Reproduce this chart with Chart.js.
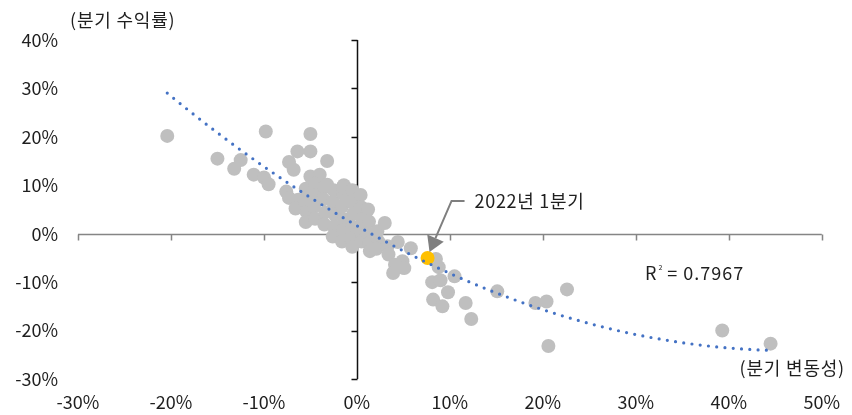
<!DOCTYPE html>
<html>
<head>
<meta charset="utf-8">
<script src="https://cdn.jsdelivr.net/npm/chart.js@4.4.1/dist/chart.umd.min.js"></script>
<style>
  html, body { margin: 0; padding: 0; background: #ffffff; }
  #wrap { width: 852px; height: 415px; }
</style>
</head>
<body>
<div id="wrap"><canvas id="c" width="852" height="415"></canvas></div>
<script>
// Quarterly volatility (x, %) against quarterly return (y, %)
const volatility = [
  // spread-out quarters, upper left
  -20.4, -15.0, -12.5, -13.2, -11.1, -10.0, -9.5, -9.8, -5.0, -6.4,
  -5.0, -7.3, -6.8, -3.2, -5.0, -4.0, -7.6, -7.3, -3.2, -1.4,
  // dense band around zero
  -6.3, -6.6, -5.5, -5.6, -5.4, -5.5,
  -4.5, -4.4, -4.6, -4.5, -3.5, -3.6, -3.4, -3.5,
  -2.5, -2.6, -2.4, -2.5, -2.6,
  -1.5, -1.6, -1.4, -1.5, -1.6, -1.5,
  -0.5, -0.6, -0.4, -0.5, -0.6, -0.5,
  0.4, 0.5, 0.6, 0.4, 0.5,
  1.2, 1.3, 1.1, 1.3, 1.4,
  2.2, 2.3, 2.1, 3.3, 3.4,
  // lower right
  3.0, 4.4, 5.8, 4.1, 4.9, 3.9, 4.9, 5.1,
  8.5, 8.8, 8.1, 9.0, 10.5, 9.8, 8.2, 9.2, 11.7, 12.3,
  15.1, 19.2, 20.4, 22.6, 20.6, 39.3, 44.5
];
const quarterlyReturn = [
  20.2, 15.5, 15.2, 13.4, 12.2, 11.6, 10.2, 21.1, 20.6, 17.0,
  17.0, 14.8, 13.2, 15.0, 11.8, 12.2, 8.7, 7.4, 10.1, 10.0,
  7.0, 5.2, 9.3, 6.8, 4.5, 2.4,
  10.3, 8.0, 5.6, 3.1, 9.6, 7.1, 4.4, 1.9,
  9.0, 6.6, 4.0, 1.5, -0.6,
  8.2, 5.6, 3.0, 0.6, -1.6, 9.6,
  9.0, 6.6, 4.1, 1.5, -1.0, -2.7,
  8.0, 5.4, 3.0, 0.5, -1.6,
  5.0, 2.5, 0.0, -2.0, -3.6,
  0.5, -1.6, -3.1, -2.6, -4.3,
  2.2, -1.7, -3.0, -6.4, -7.0, -8.1, -5.7, -7.1,
  -5.2, -6.9, -10.0, -9.6, -8.8, -12.1, -13.6, -15.0, -14.3, -17.6,
  -11.9, -14.3, -14.0, -11.5, -23.2, -20.0, -22.7
];

// Highlighted quarter
const highlightVol = [7.6];
const highlightRet = [-5.0];
const highlightLabel = '2022년 1분기';

const rSquaredValue = '0.7967';
const yTitle = '(분기 수익률)';
const xTitle = '(분기 변동성)';

const xTicks = [-30, -20, -10, 0, 10, 20, 30, 40, 50];
const yTicks = [-30, -20, -10, 0, 10, 20, 30, 40];

// ---- second-order polynomial trend (least squares) over all quarters ----
const allX = volatility.concat(highlightVol);
const allY = quarterlyReturn.concat(highlightRet);

function polyFit2(xs, ys) {
  const S = [0, 0, 0, 0, 0], T = [0, 0, 0];
  for (let i = 0; i < xs.length; i++) {
    let p = 1;
    for (let k = 0; k < 5; k++) { S[k] += p; if (k < 3) T[k] += p * ys[i]; p *= xs[i]; }
  }
  const A = [[S[0], S[1], S[2], T[0]], [S[1], S[2], S[3], T[1]], [S[2], S[3], S[4], T[2]]];
  for (let c = 0; c < 3; c++) {
    let m = c;
    for (let r = c + 1; r < 3; r++) if (Math.abs(A[r][c]) > Math.abs(A[m][c])) m = r;
    [A[c], A[m]] = [A[m], A[c]];
    for (let r = 0; r < 3; r++) {
      if (r === c) continue;
      const f = A[r][c] / A[c][c];
      for (let k = c; k < 4; k++) A[r][k] -= f * A[c][k];
    }
  }
  return [A[0][3] / A[0][0], A[1][3] / A[1][1], A[2][3] / A[2][2]];
}
const coef = polyFit2(allX, allY);
const xMin = Math.min(...allX), xMax = Math.max(...allX);
const trend = [];
for (let i = 0; i <= 120; i++) {
  const x = xMin + (xMax - xMin) * i / 120;
  trend.push({ x, y: coef[0] + coef[1] * x + coef[2] * x * x });
}

const scatterPts = volatility.map((v, i) => ({ x: v, y: quarterlyReturn[i] }));
const highlightPts = highlightVol.map((v, i) => ({ x: v, y: highlightRet[i] }));

const FONT = '"Noto Sans CJK KR", "Noto Sans", sans-serif';
const TEXT = '#1f1f1f';

// Axes crossing at zero, drawn beneath the markers
const crossAxes = {
  id: 'crossAxes',
  beforeDatasetsDraw(chart) {
    const { ctx, chartArea: a, scales: { x, y } } = chart;
    const y0 = Math.round(y.getPixelForValue(0)) + 0.5;
    const x0 = Math.round(x.getPixelForValue(0)) + 0.5;
    ctx.save();
    ctx.strokeStyle = '#858585';
    ctx.lineWidth = 1.5;
    ctx.beginPath();
    ctx.moveTo(a.left, y0); ctx.lineTo(a.right, y0);
    xTicks.forEach(v => {
      const px = Math.round(x.getPixelForValue(v)) + 0.5;
      ctx.moveTo(px, y0); ctx.lineTo(px, y0 + 6);
    });
    ctx.stroke();
    ctx.strokeStyle = '#111111';
    ctx.lineWidth = 1.5;
    ctx.beginPath();
    ctx.moveTo(x0, a.top); ctx.lineTo(x0, a.bottom);
    yTicks.forEach(v => {
      const py = Math.round(y.getPixelForValue(v)) + 0.5;
      ctx.moveTo(x0, py); ctx.lineTo(x0 - 6, py);
    });
    ctx.stroke();
    ctx.restore();
  }
};

// Axis titles, R² label and the callout for the highlighted quarter
const notes = {
  id: 'notes',
  afterDatasetsDraw(chart) {
    const { ctx, scales: { x, y } } = chart;
    ctx.save();
    ctx.fillStyle = TEXT;
    ctx.textBaseline = 'middle';
    ctx.font = '18px ' + FONT;
    ctx.letterSpacing = '0.8px';
    ctx.textAlign = 'left';
    ctx.fillText(yTitle, 70, 20);
    ctx.textAlign = 'right';
    ctx.fillText(xTitle, 845, 368);

    // R² label
    ctx.textAlign = 'left';
    ctx.letterSpacing = '1px';
    let rx = 645, ry = 273;
    ctx.fillText('R', rx, ry);
    rx += ctx.measureText('R').width + 1;
    ctx.font = '7px ' + FONT;
    ctx.letterSpacing = '0px';
    ctx.fillText('2', rx, ry - 6);
    rx += ctx.measureText('2').width;
    ctx.font = '18px ' + FONT;
    ctx.letterSpacing = '1px';
    ctx.fillText(' = ' + rSquaredValue, rx, ry);

    // callout arrow
    const px = x.getPixelForValue(highlightVol[0]);
    const py = y.getPixelForValue(highlightRet[0]);
    const ex = px + 24, ey = py - 57;
    const tipX = px + 2, tipY = py - 6;
    ctx.strokeStyle = '#7f7f7f';
    ctx.fillStyle = '#7f7f7f';
    ctx.lineWidth = 2;
    const ang = Math.atan2(tipY - ey, tipX - ex);
    const headLen = 15, headW = 9;
    const bx = tipX - headLen * Math.cos(ang), by = tipY - headLen * Math.sin(ang);
    ctx.beginPath();
    ctx.moveTo(px + 37, ey);
    ctx.lineTo(ex, ey);
    ctx.lineTo(bx, by);
    ctx.stroke();
    ctx.beginPath();
    ctx.moveTo(tipX, tipY);
    ctx.lineTo(bx + headW * Math.sin(ang), by - headW * Math.cos(ang));
    ctx.lineTo(bx - headW * Math.sin(ang), by + headW * Math.cos(ang));
    ctx.closePath();
    ctx.fill();

    ctx.fillStyle = TEXT;
    ctx.font = '18px ' + FONT;
    ctx.letterSpacing = '0.7px';
    ctx.textAlign = 'left';
    ctx.fillText(highlightLabel, px + 47, ey);
    ctx.restore();
  }
};

new Chart(document.getElementById('c'), {
  type: 'scatter',
  data: {
    datasets: [
      {
        type: 'line',
        data: trend,
        order: 0,
        borderColor: '#4472C4',
        borderWidth: 3.2,
        borderDash: [0, 8.3],
        borderCapStyle: 'round',
        pointRadius: 0,
        fill: false,
        tension: 0
      },
      {
        data: highlightPts,
        order: 1,
        backgroundColor: '#FFC000',
        borderWidth: 0,
        pointRadius: 7
      },
      {
        data: scatterPts,
        order: 2,
        backgroundColor: '#BFBFBF',
        borderWidth: 0,
        pointRadius: 7
      }
    ]
  },
  options: {
    responsive: false,
    animation: false,
    layout: { padding: { top: 40, right: 26, bottom: 0, left: 0 } },
    plugins: { legend: { display: false }, tooltip: { enabled: false } },
    scales: {
      x: {
        type: 'linear',
        min: -30, max: 50,
        grid: { display: false, drawTicks: false },
        border: { display: false },
        afterBuildTicks: s => { s.ticks = xTicks.map(v => ({ value: v })); },
        afterFit: s => { s.height = 36; },
        ticks: {
          padding: 12,
          color: TEXT,
          font: { family: FONT, size: 18 },
          callback: v => v + '%'
        }
      },
      y: {
        type: 'linear',
        min: -30, max: 40,
        grid: { display: false, drawTicks: false },
        border: { display: false },
        afterBuildTicks: s => { s.ticks = yTicks.map(v => ({ value: v })); },
        afterFit: s => { s.width = 78; },
        ticks: {
          padding: 20,
          color: TEXT,
          font: { family: FONT, size: 18 },
          callback: v => v + '%'
        }
      }
    }
  },
  plugins: [crossAxes, notes]
});
</script>
</body>
</html>
